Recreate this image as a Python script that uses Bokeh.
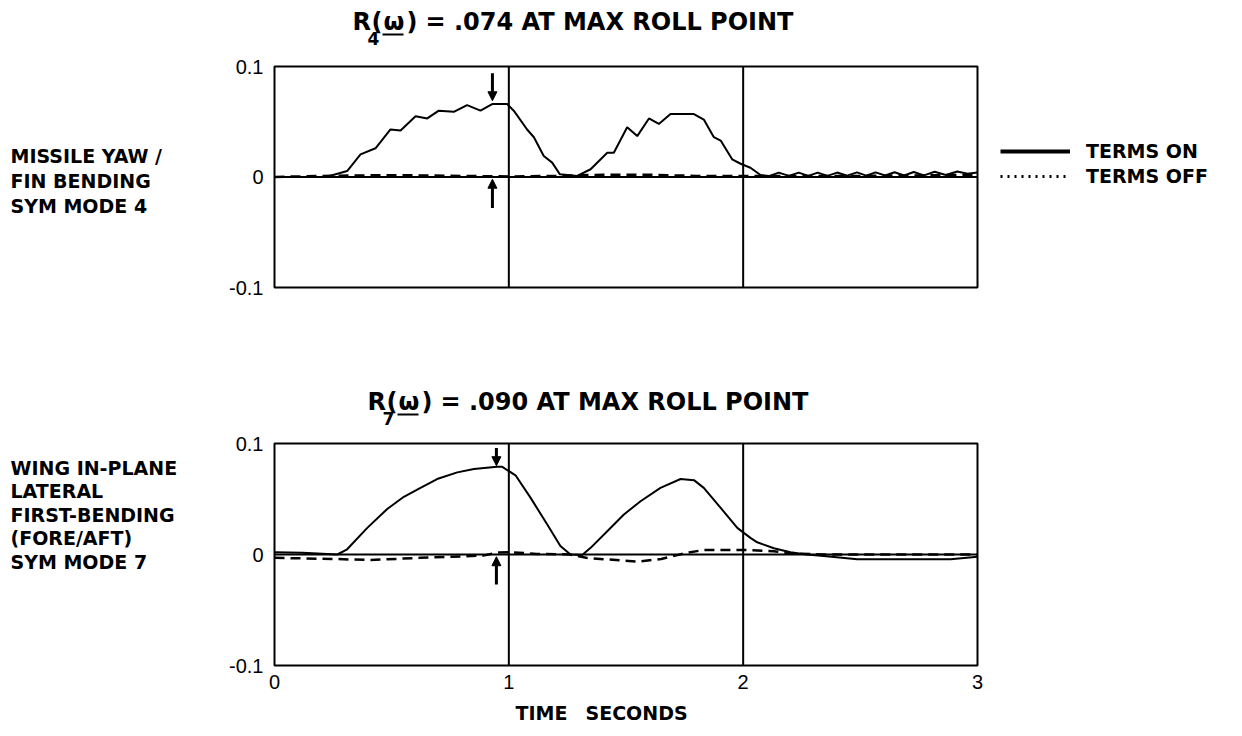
from bokeh.plotting import figure
from bokeh.models import (Range1d, FixedTicker, Span, Arrow, NormalHead,
                          Legend, LegendItem)
from bokeh.layouts import column, row
from bokeh.core.properties import value
from bokeh.embed import file_html
from bokeh.resources import INLINE

# ---------------- data ----------------
y_ticks = [-0.1, 0.0, 0.1]
y_tick_labels = ["-0.1", "0", "0.1"]
x_ticks = [0, 1, 2, 3]
x_tick_labels = ["0", "1", "2", "3"]

# Mode 4 (top) - terms on
t4_on = [0, 0.22, 0.31, 0.367, 0.431, 0.495, 0.538, 0.602, 0.652, 0.701, 0.765, 0.822,
         0.879, 0.929, 0.993, 1.021, 1.078, 1.107, 1.149, 1.185, 1.218, 1.292, 1.349,
         1.42, 1.448, 1.505, 1.548, 1.598, 1.64, 1.69, 1.79, 1.832, 1.875, 1.904, 1.953,
         1.989, 2.031, 2.074, 2.11, 2.152, 2.195, 2.237, 2.278, 2.318, 2.36, 2.401,
         2.444, 2.486, 2.525, 2.565, 2.606, 2.646, 2.687, 2.728, 2.772, 2.817, 2.865,
         2.914, 2.957, 3.0]
v4_on = [0, 0, 0.0054, 0.0205, 0.026, 0.043, 0.042, 0.055, 0.053, 0.060, 0.059, 0.065,
         0.060, 0.066, 0.066, 0.060, 0.043, 0.036, 0.019, 0.013, 0.0024, 0.001, 0.007,
         0.022, 0.022, 0.045, 0.037, 0.053, 0.048, 0.057, 0.057, 0.052, 0.036, 0.033,
         0.016, 0.012, 0.0084, 0.0018, 0.0008, 0.004, 0.001, 0.004, 0.001, 0.004, 0.001,
         0.004, 0.0012, 0.0042, 0.0012, 0.0042, 0.0013, 0.0043, 0.0014, 0.0045, 0.0015,
         0.0047, 0.0018, 0.005, 0.003, 0.004]
# Mode 4 (top) - terms off
t4_off = [0, 0.2, 0.4, 0.6, 0.8, 1.0, 1.2, 1.4, 1.6, 1.8, 2.0, 2.5, 3.0]
v4_off = [0, 0.001, 0.0015, 0.0015, 0.001, 0.0005, 0.001, 0.002, 0.002, 0.001, 0.001,
          0.001, 0.002]

# Mode 7 (bottom) - terms on
t7_on = [0, 0.12, 0.268, 0.31, 0.396, 0.481, 0.552, 0.623, 0.694, 0.78, 0.851, 0.95,
         0.972, 1.03, 1.093, 1.164, 1.22, 1.263, 1.313, 1.349, 1.42, 1.491, 1.562, 1.647,
         1.733, 1.79, 1.832, 1.904, 1.975, 2.031, 2.06, 2.131, 2.202, 2.27, 2.344, 2.487,
         2.7, 2.885, 3.0]
v7_on = [0.002, 0.0015, 0, 0.0047, 0.024, 0.041, 0.052, 0.060, 0.068, 0.074, 0.077,
         0.079, 0.079, 0.071, 0.051, 0.027, 0.0077, 0, -0.0005, 0.006, 0.021, 0.036,
         0.048, 0.060, 0.068, 0.067, 0.060, 0.042, 0.024, 0.015, 0.011, 0.0056, 0.002,
         0, -0.0014, -0.0043, -0.0043, -0.0043, -0.002]
# Mode 7 (bottom) - terms off
t7_off = [0, 0.25, 0.41, 0.62, 0.89, 0.95, 1.01, 1.12, 1.26, 1.33, 1.55, 1.65, 1.76,
          1.83, 2.03, 2.13, 2.2, 2.34, 2.6, 3.0]
v7_off = [-0.003, -0.004, -0.005, -0.003, -0.001, 0.0017, 0.002, 0.0005, 0.0, -0.003,
          -0.0065, -0.004, 0.0015, 0.004, 0.004, 0.003, 0.001, 0, 0, 0]

# max-roll-point markers (time, upper arrow top/tip, lower arrow tail/tip)
arrow4 = [0.93, 0.094, 0.069, -0.028, -0.002]
arrow7 = [0.947, 0.096, 0.080, -0.027, -0.002]

title_subs = ["4", "7"]
title_rest = ["= .074  AT MAX ROLL POINT", "= .090  AT MAX ROLL POINT"]
mode4_text = ["MISSILE YAW /", "FIN BENDING", "SYM MODE 4"]
mode7_text = ["WING IN-PLANE", "LATERAL", "FIRST-BENDING", "(FORE/AFT)", "SYM MODE 7"]
legend_labels = ["TERMS ON", "TERMS OFF"]
x_label_words = ["TIME", "SECONDS"]

TICK_FONT = "Liberation Sans"
BOLD_FONT = "DejaVu Sans"
SIDE_FONT = "DejaVu Sans"

LEFT_W = 215                 # width of the left text column
FRAME_L = 274                # page x of the plot frames
FRAME_W = 703
RIGHT_W = 1240 - LEFT_W
BL = FRAME_L - LEFT_W        # left border of the right-column figures
BR = RIGHT_W - BL - FRAME_W  # right border of the right-column figures


def text_fig(w, h, x0, y0, bl=0, br=0):
    """A bare figure whose data coordinates equal page pixels."""
    p = figure(frame_width=w, frame_height=h, x_range=Range1d(x0, x0 + w),
               y_range=Range1d(y0 + h, y0), x_axis_location=None,
               y_axis_location=None, min_border=0, min_border_left=bl,
               min_border_right=br, min_border_top=0, min_border_bottom=0,
               output_backend="svg", toolbar_location=None)
    p.grid.visible = False
    p.outline_line_color = None
    p.background_fill_color = "white"
    p.border_fill_color = "white"
    return p


def make_fig(top, fh, bottom, show_x):
    p = figure(frame_width=FRAME_W, frame_height=fh, min_border_left=BL,
               min_border_right=BR, min_border_top=top, min_border_bottom=bottom,
               x_range=Range1d(0, 3), y_range=Range1d(-0.1, 0.1),
               output_backend="svg", toolbar_location=None)
    p.outline_line_color = "black"
    p.outline_line_width = 2
    p.outline_line_alpha = 1
    p.grid.visible = False
    p.background_fill_color = "white"
    p.border_fill_color = "white"
    ya = p.yaxis[0]
    ya.ticker = FixedTicker(ticks=y_ticks)
    ya.major_label_overrides = {k: v for k, v in zip(y_ticks, y_tick_labels)}
    ya.axis_line_color = None
    ya.major_tick_line_color = None
    ya.minor_tick_line_color = None
    ya.major_tick_out = 0
    ya.major_tick_in = 0
    ya.minor_tick_out = 0
    ya.major_label_text_font = TICK_FONT
    ya.major_label_text_font_size = "20px"
    ya.major_label_text_color = "black"
    ya.major_label_standoff = 11
    xa = p.xaxis[0]
    if show_x:
        xa.ticker = FixedTicker(ticks=x_ticks)
        xa.major_label_overrides = {k: v for k, v in zip(x_ticks, x_tick_labels)}
        xa.axis_line_color = None
        xa.major_tick_line_color = None
        xa.minor_tick_line_color = None
        xa.major_tick_out = 0
        xa.major_tick_in = 0
        xa.minor_tick_out = 0
        xa.major_label_text_font = TICK_FONT
        xa.major_label_text_font_size = "20px"
        xa.major_label_text_color = "black"
        xa.major_label_standoff = 9
    else:
        xa.visible = False
    for xv in (1, 2):
        p.add_layout(Span(location=xv, dimension="height", line_color="black", line_width=2))
    p.add_layout(Span(location=0, dimension="width", line_color="black", line_width=2))
    return p


def add_arrows(p, a):
    t, ytop, ytip, ybot, ytip2 = a
    for ys, ye in ((ytop, ytip), (ybot, ytip2)):
        p.add_layout(Arrow(end=NormalHead(size=9, fill_color="black", line_color="black"),
                           x_start=t, y_start=ys, x_end=t, y_end=ye,
                           line_color="black", line_width=3))


def draw_title(p, sub, rest, x0, yc):
    bold = dict(text_font=value(BOLD_FONT), text_font_style="bold",
                text_baseline="middle", text_align="left", text_color="black")
    p.text(x=[x0], y=[yc], text=["R"], text_font_size=value("24px"), **bold)
    p.text(x=[x0 + 15], y=[yc + 17], text=[sub], text_font_size=value("17px"), **bold)
    p.text(x=[x0 + 19], y=[yc], text=["("], text_font_size=value("24px"), **bold)
    p.text(x=[x0 + 31], y=[yc], text=["ω"], text_font_size=value("24px"), **bold)
    p.segment(x0=[x0 + 30], y0=[yc + 13], x1=[x0 + 51], y1=[yc + 13],
              line_color="black", line_width=2)
    p.text(x=[x0 + 54], y=[yc], text=[")"], text_font_size=value("24px"), **bold)
    p.text(x=[x0 + 73], y=[yc], text=[rest], text_font_size=value("24px"), **bold)


# ---------------- left text column ----------------
left = text_fig(LEFT_W, 734, 0, 0)
side = dict(text_font=value(SIDE_FONT), text_font_style="bold",
            text_font_size=value("19px"), text_baseline="middle", text_align="left",
            text_color="black")
left.text(x=[10] * len(mode4_text), y=[155 + 25 * i for i in range(len(mode4_text))],
          text=mode4_text, **side)
left.text(x=[10] * len(mode7_text), y=[467 + 23.5 * i for i in range(len(mode7_text))],
          text=mode7_text, **side)

# ---------------- title 1 ----------------
t1 = text_fig(FRAME_W, 50, FRAME_L, 0, BL, BR)
draw_title(t1, title_subs[0], title_rest[0], 352, 21)

# ---------------- top figure ----------------
p1 = make_fig(16, 221, 93, False)
p1.line(t4_on, v4_on, line_color="black", line_width=2)
p1.line(t4_off, v4_off, line_color="black", line_width=2.5, line_dash="10 6")
add_arrows(p1, arrow4)

nan = float("nan")
leg_on = p1.line([nan], [nan], line_color="black", line_width=4)
leg_off = p1.line([nan], [nan], line_color="black", line_width=3, line_dash="2 5")
legend = Legend(items=[LegendItem(label=legend_labels[0], renderers=[leg_on]),
                       LegendItem(label=legend_labels[1], renderers=[leg_off])],
                location=(23, 100), glyph_width=70, glyph_height=22, label_height=22,
                spacing=3, padding=0, margin=0, label_standoff=16,
                border_line_color=None, background_fill_alpha=0,
                label_text_font=SIDE_FONT, label_text_font_style="bold",
                label_text_font_size="19px", label_text_color="black")
p1.add_layout(legend, "right")

# ---------------- title 2 ----------------
t2 = text_fig(FRAME_W, 50, FRAME_L, 380, BL, BR)
draw_title(t2, title_subs[1], title_rest[1], 367, 401)

# ---------------- bottom figure ----------------
p2 = make_fig(13, 222, 33, True)
p2.line(t7_on, v7_on, line_color="black", line_width=2)
p2.line(t7_off, v7_off, line_color="black", line_width=2.5, line_dash="10 6")
add_arrows(p2, arrow7)

# ---------------- x label ----------------
xl = text_fig(FRAME_W, 36, FRAME_L, 698, BL, BR)
xl.text(x=[515, 585], y=[712, 712], text=x_label_words, text_font=value(BOLD_FONT),
        text_font_style="bold", text_font_size=value("19px"), text_baseline="middle",
        text_align="left", text_color="black")

layout = row(left, column(t1, p1, t2, p2, xl, spacing=0), spacing=0)
open("out.html", "w").write(file_html(layout, INLINE))
